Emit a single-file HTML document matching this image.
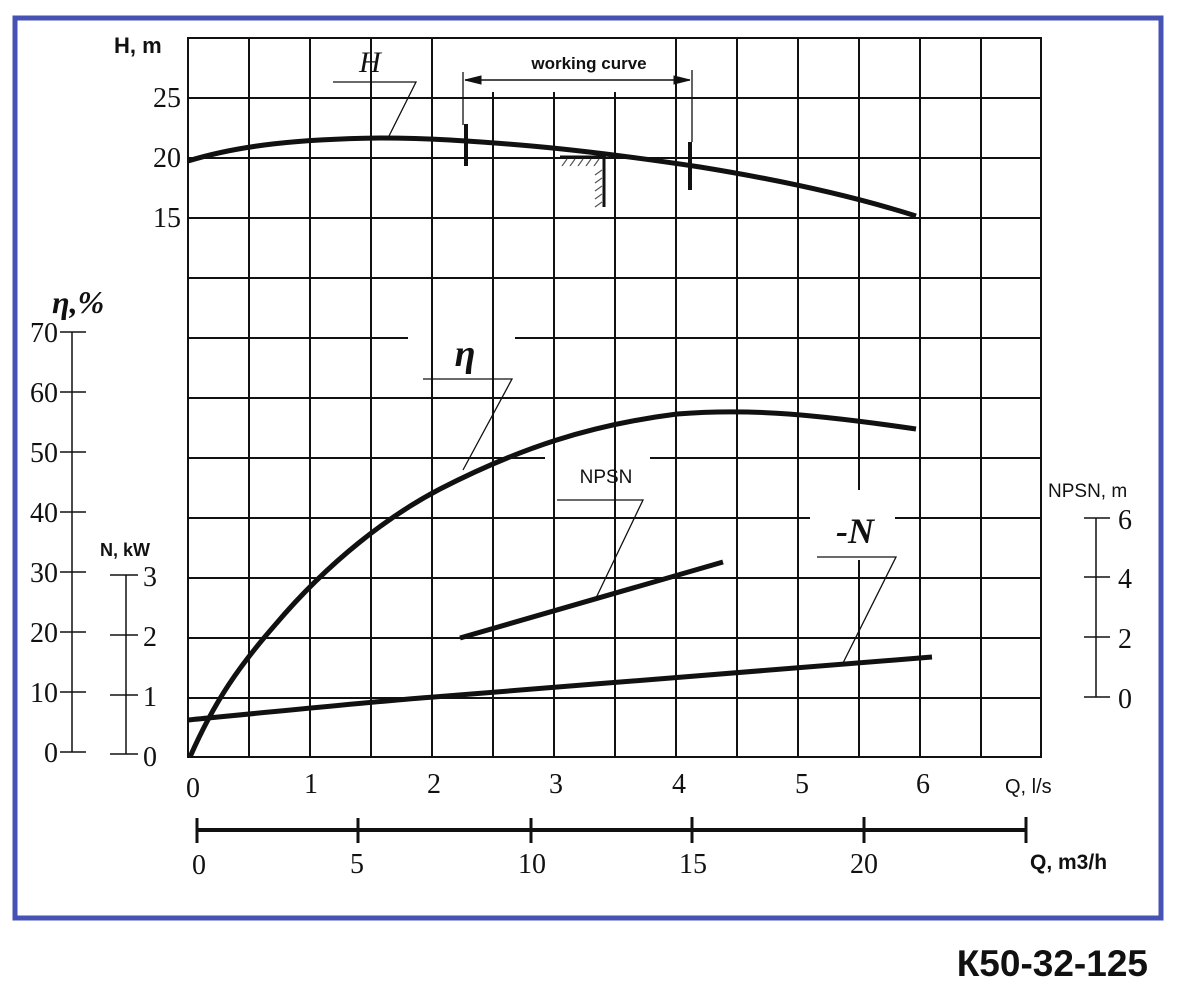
<!DOCTYPE html>
<html><head><meta charset="utf-8"><style>
html,body{margin:0;padding:0;background:#fff;}
svg{display:block}
.s{font-family:"Liberation Serif",serif;font-size:28px;fill:#111}
.b{font-family:"Liberation Sans",sans-serif;font-weight:bold;fill:#111}
</style></head><body>
<svg width="1186" height="1000" viewBox="0 0 1186 1000" xmlns="http://www.w3.org/2000/svg">
<rect x="0" y="0" width="1186" height="1000" fill="#fff"/>
<rect x="15" y="18" width="1146" height="900" fill="none" stroke="#4652b4" stroke-width="5"/>
<g stroke="#111" stroke-width="2" fill="none">
<path d="M188,38H1041V757H188Z"/>
<path d="M249,38V757M310,38V757M371,38V757M432,38V757M676,38V757M737,38V757M798,38V757M920,38V757M981,38V757"/>
<path d="M859,38V490M859,560V757"/>
<path d="M493,92V757M554,92V757M615,92V757"/>
<path d="M188,98H1041M188,158H1041M188,218H1041M188,278H1041M188,398H1041M188,578H1041M188,638H1041M188,698H1041"/>
<path d="M188,338H408M515,338H1041"/>
<path d="M188,458H545M650,458H1041"/>
<path d="M188,518H810M895,518H1041"/>
</g>
<rect x="442" y="52" width="230" height="24" fill="#fff"/>
<g stroke="#111" fill="none">
<path d="M463,72V125M692,70V142" stroke-width="1.3"/>
<path d="M465,80H690" stroke-width="1.5"/>
<path d="M465,80l16,-4v8z M690,80l-16,-4v8z" fill="#111"/>
</g>
<text x="589" y="69" class="b" font-size="17" text-anchor="middle">working curve</text>
<path d="M188,161 C240,145 300,139 380,138 C430,138 470,141 520,145 C580,150 640,158 700,167 C780,180 850,195 916,216" stroke="#111" stroke-width="5" fill="none"/>
<path d="M466,124V166M690,142V190" stroke="#111" stroke-width="4"/>
<path d="M560,157H606M604,157V207" stroke="#111" stroke-width="3"/>
<g stroke="#555" stroke-width="1.2">
<path d="M562,166l5,-7M570,166l5,-7M578,166l5,-7M586,166l5,-7M594,166l5,-7"/>
<path d="M595,175l7,-5M595,183l7,-5M595,191l7,-5M595,199l7,-5M595,207l7,-5"/>
</g>
<text x="370" y="72" font-family="Liberation Serif,serif" font-style="italic" font-size="30" text-anchor="middle" fill="#111">H</text>
<path d="M333,82H416L388,138" stroke="#111" stroke-width="1.3" fill="none"/>
<path d="M190,757 C215,700 240,665 275,625 C330,560 390,515 440,489 C520,448 590,425 677,414 C740,409 800,412 916,429" stroke="#111" stroke-width="5" fill="none"/>
<text x="465" y="366" font-family="Liberation Serif,serif" font-style="italic" font-weight="bold" font-size="38" text-anchor="middle" fill="#111">η</text>
<path d="M423,379H512L463,470" stroke="#111" stroke-width="1.3" fill="none"/>
<path d="M460,638L723,562" stroke="#111" stroke-width="5"/>
<text x="606" y="483" font-family="Liberation Sans,sans-serif" font-size="19" text-anchor="middle" fill="#111">NPSN</text>
<path d="M557,500H643L596,598" stroke="#111" stroke-width="1.3" fill="none"/>
<path d="M188,720 C300,709 380,701 434,697 C600,684 760,670 932,657" stroke="#111" stroke-width="5" fill="none"/>
<text x="855" y="543" font-family="Liberation Serif,serif" font-style="italic" font-weight="bold" font-size="36" text-anchor="middle" fill="#111">-N</text>
<path d="M817,557H896L843,663" stroke="#111" stroke-width="1.3" fill="none"/>
<text x="114" y="53" class="b" font-size="22">H, m</text>
<text x="181" y="107" class="s" text-anchor="end">25</text>
<text x="181" y="167" class="s" text-anchor="end">20</text>
<text x="181" y="227" class="s" text-anchor="end">15</text>
<text x="52" y="313" font-family="Liberation Serif,serif" font-style="italic" font-weight="bold" font-size="32" fill="#111">η,%</text>
<g stroke="#111" stroke-width="1.5">
<path d="M72,332V752M60,332H86M60,392H86M60,452H86M60,512H86M60,572H86M60,632H86M60,692H86M60,752H86"/>
<path d="M126,575V754M110,575H138M110,635H138M110,695H138M110,754H138"/>
<path d="M1096,518V697M1084,518H1110M1084,577H1110M1084,637H1110M1084,697H1110"/>
</g>
<g class="s" text-anchor="end">
<text x="58" y="342">70</text><text x="58" y="402">60</text><text x="58" y="462">50</text><text x="58" y="522">40</text>
<text x="58" y="582">30</text><text x="58" y="642">20</text><text x="58" y="702">10</text><text x="58" y="762">0</text>
</g>
<text x="100" y="556" class="b" font-size="18">N, kW</text>
<g class="s">
<text x="143" y="586">3</text><text x="143" y="646">2</text><text x="143" y="706">1</text><text x="143" y="766">0</text>
<text x="1118" y="529">6</text><text x="1118" y="588">4</text><text x="1118" y="648">2</text><text x="1118" y="708">0</text>
</g>
<text x="1048" y="497" font-family="Liberation Sans,sans-serif" font-size="19" fill="#111">NPSN, m</text>
<g class="s" text-anchor="middle">
<text x="193" y="797">0</text><text x="311" y="793">1</text><text x="434" y="793">2</text><text x="556" y="793">3</text>
<text x="679" y="793">4</text><text x="802" y="793">5</text><text x="923" y="793">6</text>
</g>
<text x="1005" y="793" font-family="Liberation Sans,sans-serif" font-size="20" fill="#111">Q, l/s</text>
<g stroke="#111" stroke-width="4">
<path d="M197,830H1026"/>
<path d="M197,818V843M358,818V843M531,818V843M692,817V843M864,817V843M1026,817V843" stroke-width="3"/>
</g>
<g class="s" text-anchor="middle">
<text x="199" y="874">0</text><text x="357" y="873">5</text><text x="532" y="873">10</text><text x="693" y="873">15</text><text x="864" y="873">20</text>
</g>
<text x="1030" y="869" class="b" font-size="21">Q, m3/h</text>
<text x="1148" y="976" class="b" font-size="37" text-anchor="end">К50-32-125</text>
</svg>
</body></html>
